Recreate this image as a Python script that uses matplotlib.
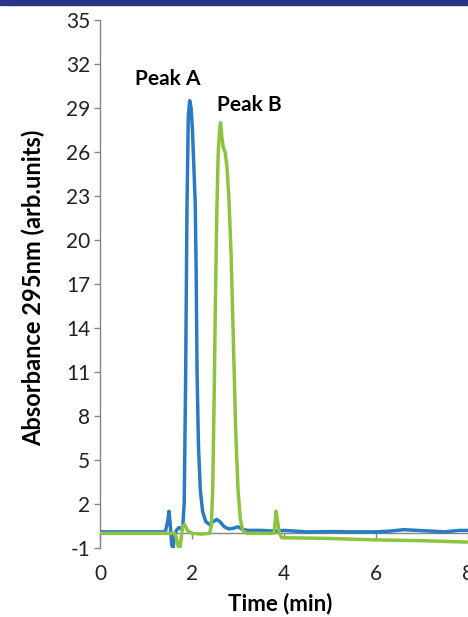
import matplotlib.pyplot as plt
from matplotlib.patches import Rectangle

# blue trace (Peak A)
t_a = [0.0, 1.0, 1.42, 1.47, 1.50, 1.53, 1.56, 1.59, 1.62, 1.66, 1.72, 1.78,
       1.80, 1.83, 1.86, 1.89, 1.92, 1.95, 1.98, 2.01, 2.04, 2.07, 2.09, 2.11,
       2.14, 2.18, 2.23, 2.30, 2.38, 2.46, 2.54, 2.62, 2.70, 2.80, 2.90, 3.00,
       3.08, 3.20, 3.50, 3.80, 4.00, 4.50, 5.00, 5.50, 6.00, 6.30, 6.60, 6.90,
       7.20, 7.50, 7.80, 8.00]
abs_a = [0.1, 0.1, 0.1, 0.8, 1.5, 0.5, -0.8, -1.0, -0.2, 0.2, 0.4, 0.3,
         0.5, 2.0, 10.0, 22.0, 28.5, 29.5, 29.0, 27.5, 25.0, 22.5, 18.0, 11.0,
         6.0, 3.0, 1.5, 0.8, 0.6, 0.8, 0.95, 0.75, 0.45, 0.3, 0.35, 0.45,
         0.3, 0.2, 0.2, 0.15, 0.2, 0.1, 0.12, 0.1, 0.1, 0.15, 0.25, 0.2,
         0.15, 0.1, 0.2, 0.2]

# green trace (Peak B)
t_b = [0.0, 1.0, 1.62, 1.66, 1.70, 1.74, 1.77, 1.80, 1.84, 1.90, 2.00, 2.20,
       2.38, 2.42, 2.45, 2.48, 2.51, 2.54, 2.57, 2.60, 2.62, 2.65, 2.68, 2.72,
       2.76, 2.80, 2.85, 2.90, 2.95, 3.00, 3.05, 3.10, 3.20, 3.60, 3.78, 3.81,
       3.83, 3.86, 3.90, 3.95, 4.00, 5.00, 6.00, 7.00, 8.00]
abs_b = [0.0, 0.0, 0.0, -0.3, -0.9, -1.0, -0.2, 0.5, 0.6, 0.2, 0.0, -0.05,
         0.0, 0.5, 3.0, 9.0, 16.0, 22.0, 26.0, 27.5, 28.0, 27.0, 26.3, 26.0,
         25.0, 23.0, 19.0, 13.0, 7.0, 3.0, 1.0, 0.2, 0.0, 0.0, 0.0, 0.8,
         1.5, 0.8, 0.0, -0.3, -0.3, -0.35, -0.45, -0.5, -0.6]

x_ticks = [0, 2, 4, 6, 8]
y_ticks = list(range(-1, 36, 3))

plt.rcParams['font.family'] = ['Lato', 'DejaVu Sans']
plt.rcParams['axes.unicode_minus'] = False

fig = plt.figure(figsize=(4.68, 6.17), dpi=100)
ax = fig.add_axes([100 / 468, 1 - 548 / 617, 1 - 100 / 468, (548 - 20) / 617])
fig.patches.append(Rectangle((0, 1 - 5 / 617), 1, 5 / 617, transform=fig.transFigure,
                             color='#2b3585', zorder=5))

ax.plot(t_a, abs_a, color='#2a7bc3', lw=2.5, solid_joinstyle='round', zorder=3)
ax.plot(t_b, abs_b, color='#8cc43f', lw=2.5, solid_joinstyle='round', zorder=4)

ax.set_xlim(0, 8)
ax.set_ylim(-1, 35)
ax.set_xticks(x_ticks)
ax.set_yticks(y_ticks)

gray = '#858585'
for s in ['top', 'right']:
    ax.spines[s].set_visible(False)
ax.spines['left'].set_color(gray)
ax.spines['left'].set_linewidth(1.0)
ax.spines['bottom'].set_position(('data', 0))
ax.spines['bottom'].set_color(gray)
ax.spines['bottom'].set_linewidth(1.0)

ax.tick_params(axis='y', direction='out', length=4, width=1, color=gray,
               labelsize=15, pad=3, labelcolor='#222222')
ax.tick_params(axis='x', direction='out', length=4, width=1, color=gray,
               labelsize=15, pad=18, labelcolor='#222222')

ax.text(1.48, 31.0, 'Peak A', fontsize=15, fontweight='bold', ha='center', va='center')
ax.text(3.25, 29.2, 'Peak B', fontsize=15, fontweight='bold', ha='center', va='center')

fig.text(280 / 468, 1 - 604 / 617, 'Time (min)', fontsize=16, fontweight='bold',
         ha='center', va='center')
fig.text(33 / 468, 1 - 288 / 617, 'Absorbance 295nm (arb.units)', fontsize=17,
         fontweight='bold', rotation=90, ha='center', va='center')

fig.savefig('out.png', dpi=100)
